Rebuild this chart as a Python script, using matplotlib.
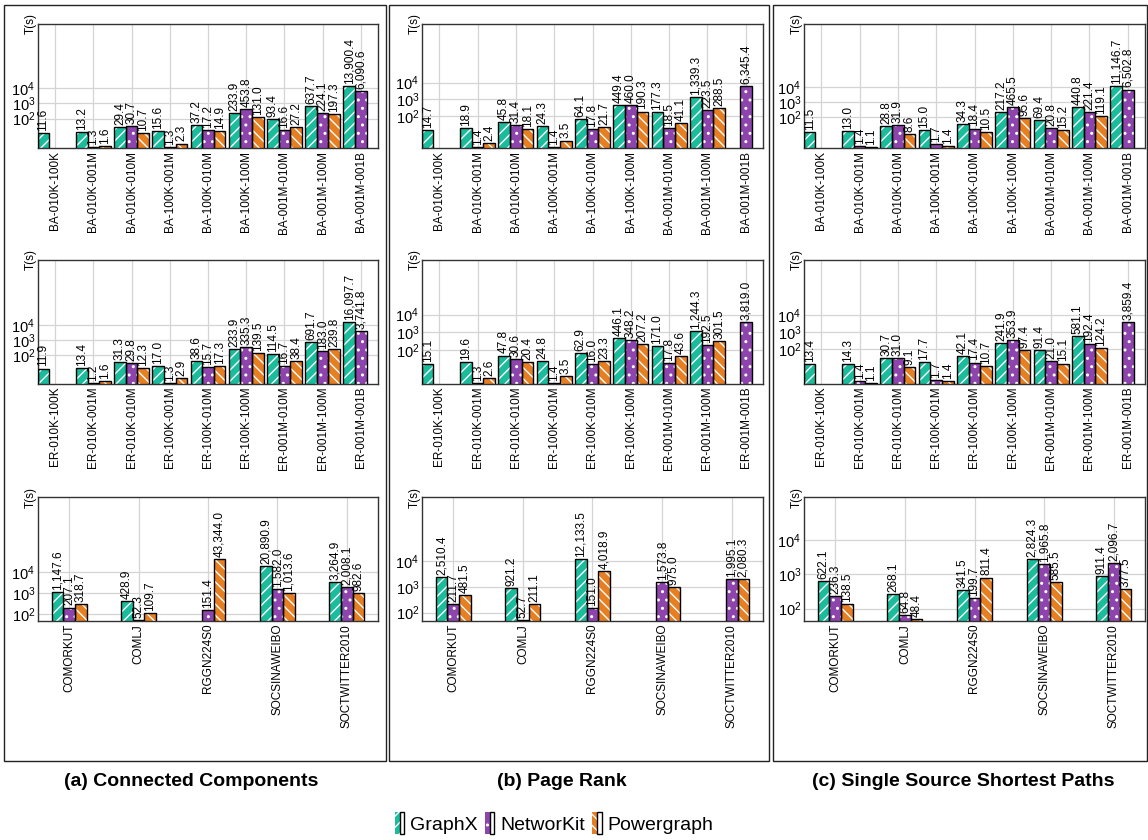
import numpy as np
import matplotlib.pyplot as plt
from matplotlib.patches import Rectangle, Patch
from matplotlib.legend_handler import HandlerTuple

plt.rcParams['font.family'] = ['Liberation Sans', 'DejaVu Sans']
plt.rcParams['hatch.linewidth'] = 1.0

systems = ['GraphX', 'NetworKit', 'Powergraph']
colors = ['#1abc9c', '#8e44ad', '#e67e22']
hatches = ['///', '..', '\\\\\\']
nan = np.nan

ba_graphs = ['BA-010K-100K', 'BA-010K-001M', 'BA-010K-010M', 'BA-100K-001M', 'BA-100K-010M',
             'BA-100K-100M', 'BA-001M-010M', 'BA-001M-100M', 'BA-001M-001B']
er_graphs = ['ER-010K-100K', 'ER-010K-001M', 'ER-010K-010M', 'ER-100K-001M', 'ER-100K-010M',
             'ER-100K-100M', 'ER-001M-010M', 'ER-001M-100M', 'ER-001M-001B']
real_graphs = ['COMORKUT', 'COMLJ', 'RGGN224S0', 'SOCSINAWEIBO', 'SOCTWITTER2010']

# each panel: [GraphX, NetworKit, Powergraph], times in seconds
cc_ba = [[11.6, 13.2, 29.4, 15.6, 37.2, 233.9, 93.4, 637.7, 13900.4],
         [nan, 1.3, 30.7, 1.3, 17.2, 453.8, 16.6, 224.1, 6090.6],
         [nan, 1.6, 10.7, 2.3, 14.9, 131.0, 27.2, 197.3, nan]]
pr_ba = [[14.7, 18.9, 45.8, 24.3, 64.1, 449.4, 177.3, 1339.3, nan],
         [nan, 1.4, 31.4, 1.4, 17.8, 460.0, 18.5, 223.5, 6345.4],
         [nan, 2.4, 18.1, 3.5, 21.7, 190.3, 41.1, 288.5, nan]]
sssp_ba = [[11.5, 13.0, 28.8, 15.0, 34.3, 217.2, 69.4, 440.8, 11146.7],
           [nan, 1.4, 31.9, 1.7, 18.4, 465.5, 20.8, 221.4, 6502.8],
           [nan, 1.1, 8.6, 1.4, 10.5, 95.6, 15.2, 119.1, nan]]

cc_er = [[11.9, 13.4, 31.3, 17.0, 38.6, 233.9, 114.5, 691.7, 16097.7],
         [nan, 1.2, 29.8, 1.3, 15.7, 335.3, 16.7, 183.0, 3741.8],
         [nan, 1.6, 12.3, 2.9, 17.3, 139.5, 38.4, 239.8, nan]]
pr_er = [[15.1, 19.6, 47.8, 24.8, 62.9, 446.1, 171.0, 1244.3, nan],
         [nan, 1.3, 30.6, 1.4, 16.0, 348.2, 17.8, 192.5, 3819.0],
         [nan, 2.6, 20.4, 3.5, 23.3, 207.2, 43.6, 301.5, nan]]
sssp_er = [[13.4, 14.3, 30.7, 17.7, 42.1, 241.9, 91.4, 581.1, nan],
           [nan, 1.4, 31.0, 1.7, 17.4, 353.9, 21.0, 192.4, 3859.4],
           [nan, 1.1, 9.1, 1.4, 10.7, 97.4, 15.1, 124.2, nan]]

cc_real = [[1147.6, 428.9, nan, 20890.9, 3264.9],
           [207.1, 52.3, 151.4, 1582.0, 2008.1],
           [318.7, 109.7, 43344.0, 1013.6, 982.6]]
pr_real = [[2510.4, 921.2, 12133.5, nan, nan],
           [211.7, 52.7, 151.0, 1573.8, 1995.1],
           [481.5, 211.1, 4018.9, 975.0, 2080.3]]
sssp_real = [[622.1, 268.1, 341.5, 2824.3, 911.4],
             [236.3, 64.8, 199.7, 1965.8, 2096.7],
             [138.5, 48.4, 811.4, 585.5, 377.5]]

subtitles = ['(a) Connected Components', '(b) Page Rank', '(c) Single Source Shortest Paths']

rows = [(ba_graphs, [cc_ba, pr_ba, sssp_ba], 0.305),
        (er_graphs, [cc_er, pr_er, sssp_er], 0.305),
        (real_graphs, [cc_real, pr_real, sssp_real], 0.168)]

W, H = 1148, 840
fig = plt.figure(figsize=(W / 100, H / 100), dpi=100)

col_x = [(38, 378), (422, 763), (804, 1145)]
row_y = [(24, 148), (260, 384), (497, 621)]
boxes = [(4, 386), (389, 769), (773, 1147)]
sub_x = [191, 562, 963]


def draw_panel(ax, cats, series, width):
    x = np.arange(len(cats))
    vals = np.array(series, dtype=float)
    lo = np.nanmin(vals) * 0.9
    hi = np.nanmax(vals) ** 2 / lo
    for i in range(3):
        xs = x + (i - 1) * width
        ax.bar(xs, vals[i], width, color=colors[i], hatch=hatches[i],
               edgecolor='white', linewidth=0, zorder=2)
        ax.bar(xs, vals[i], width, fill=False, edgecolor='black',
               linewidth=1.0, zorder=3)
        for xi, v in zip(xs, vals[i]):
            if np.isnan(v):
                continue
            ax.annotate(f'{v:,.1f}', (xi, v), xytext=(0, 1.5),
                        textcoords='offset points', rotation=90,
                        ha='center', va='bottom', fontsize=8.5, zorder=4)
    ax.set_yscale('log')
    ax.set_ylim(lo, hi)
    ax.set_xlim(-0.45, len(cats) - 0.55)
    ax.set_yticks([1e2, 1e3, 1e4])
    ax.set_yticklabels([r'$\mathdefault{10^{2}}$', r'$\mathdefault{10^{3}}$',
                        r'$\mathdefault{10^{4}}$'], fontsize=10.5)
    ax.minorticks_off()
    ax.set_xticks(x)
    ax.set_xticklabels(cats, rotation=90, fontsize=8.5)
    ax.tick_params(length=0, pad=2)
    ax.grid(True, color='#d4d4d4', linewidth=0.9)
    ax.set_axisbelow(True)
    for s in ax.spines.values():
        s.set_color('#333333')
        s.set_linewidth(1.0)
    ax.set_ylabel('T(s)', fontsize=8.5)
    ax.yaxis.set_label_coords(-0.005, 1.0)


for r, (cats, panels, width) in enumerate(rows):
    y0, y1 = row_y[r]
    for c, series in enumerate(panels):
        x0, x1 = col_x[c]
        ax = fig.add_axes([x0 / W, 1 - y1 / H, (x1 - x0) / W, (y1 - y0) / H])
        draw_panel(ax, cats, series, width)

# frames around each sub-figure
for c, (bx0, bx1) in enumerate(boxes):
    fig.patches.append(Rectangle((bx0 / W, 1 - 761 / H), (bx1 - bx0) / W, (761 - 5) / H,
                                 transform=fig.transFigure, fill=False,
                                 edgecolor='#222222', linewidth=1.0))
    fig.text(sub_x[c] / W, 1 - 782 / H, subtitles[c], ha='center', va='center',
             fontsize=14, fontweight='bold')

handles = []
for i in range(3):
    h1 = Patch(facecolor=colors[i], hatch=hatches[i], edgecolor='white', linewidth=0)
    h2 = Patch(fill=False, edgecolor='black', linewidth=1.0)
    handles.append((h1, h2))
fig.legend(handles, systems, loc='center', bbox_to_anchor=(554 / W, 1 - 823 / H),
           ncol=3, frameon=False, fontsize=14, handlelength=0.5, handleheight=1.3,
           handletextpad=0.3, columnspacing=0.35,
           handler_map={tuple: HandlerTuple(ndivide=None, pad=0)})

plt.savefig('out.png', dpi=100)
